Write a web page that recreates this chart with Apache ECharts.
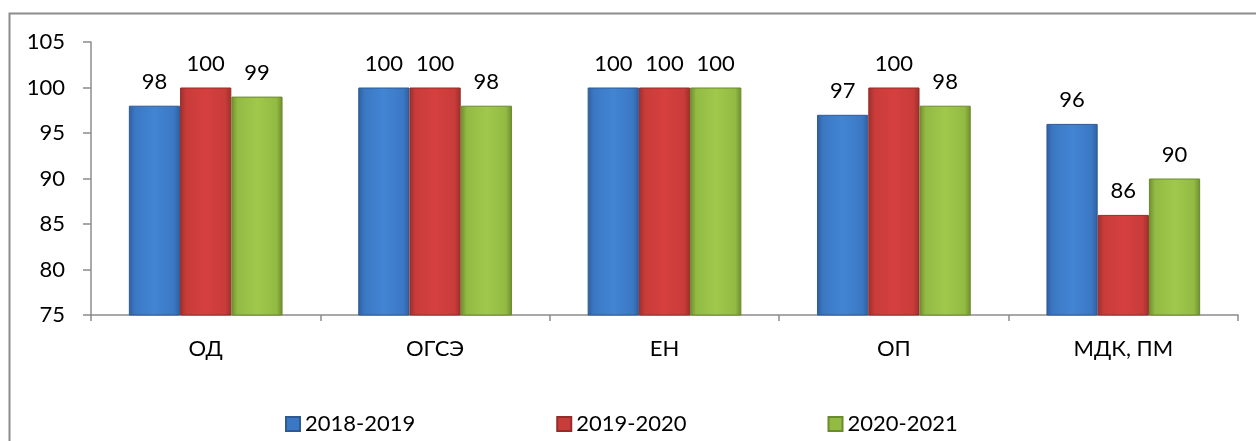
<!DOCTYPE html>
<html><head><meta charset="utf-8">
<script src="https://cdn.jsdelivr.net/npm/echarts@6/dist/echarts.min.js"></script>
<style>html,body{margin:0;padding:0;background:#fff}#c{width:1256px;height:441px}</style>
</head><body><div id="c"></div>
<script>
const categories = ['ОД', 'ОГСЭ', 'ЕН', 'ОП', 'МДК, ПМ'];
const seriesNames = ['2018-2019', '2019-2020', '2020-2021'];
const s2018 = [98, 100, 100, 97, 96];
const s2019 = [100, 100, 100, 100, 86];
const s2020 = [99, 98, 100, 98, 90];
const yTicks = {min: 75, max: 105, interval: 5};

const FONT = 'Lato';
const FS = 22;
function grad(edge, mid, light) {
  return new echarts.graphic.LinearGradient(0, 0, 1, 0, [
    {offset: 0, color: edge}, {offset: 0.12, color: mid}, {offset: 0.5, color: light},
    {offset: 0.88, color: mid}, {offset: 1, color: edge}
  ]);
}
const styles = [
  {color: grad('#2f5f9e', '#3b78c4', '#4285d2'), borderColor: '#2d5a94'},
  {color: grad('#9e2e2c', '#c83c3a', '#d6403e'), borderColor: '#952c2a'},
  {color: grad('#6f8d2e', '#93bb44', '#a0c84b'), borderColor: '#6b8a2c'}
];
const legendColors = ['#3b78c4', '#c83c3a', '#93bb44'];
const data = [s2018, s2019, s2020];

const chart = echarts.init(document.getElementById('c'), null, {renderer: 'canvas'});
chart.setOption({
  animation: false,
  textStyle: {fontFamily: FONT},
  graphic: [{type: 'rect', shape: {x: 9.5, y: 13.5, width: 1300, height: 500},
    style: {fill: 'none', stroke: '#8c8c8c', lineWidth: 2}, silent: true}],
  grid: {left: 91, right: 18, top: 42, bottom: 126, containLabel: false},
  legend: {
    bottom: 1, left: 280, itemWidth: 14, itemHeight: 14, itemGap: 141,
    icon: 'rect',
    textStyle: {fontSize: FS, color: '#000', fontFamily: FONT},
    data: seriesNames.map((n, i) => ({name: n, itemStyle: {color: legendColors[i]}}))
  },
  xAxis: {
    type: 'category', data: categories,
    axisLine: {lineStyle: {color: '#8c8c8c', width: 1.5}},
    axisTick: {show: true, length: 6, lineStyle: {color: '#8c8c8c', width: 1.5}},
    axisLabel: {fontSize: FS, color: '#000', margin: 23, fontFamily: FONT}
  },
  yAxis: {
    type: 'value', min: yTicks.min, max: yTicks.max, interval: yTicks.interval,
    axisLine: {show: true, lineStyle: {color: '#8c8c8c', width: 1.5}},
    axisTick: {show: true, length: 8, lineStyle: {color: '#8c8c8c', width: 1.5}},
    splitLine: {show: false},
    axisLabel: {fontSize: FS, color: '#000', margin: 26, fontFamily: FONT}
  },
  series: seriesNames.map((n, i) => ({
    name: n, type: 'bar', data: data[i],
    barGap: '0%', barCategoryGap: '33%',
    itemStyle: Object.assign({borderWidth: 1}, styles[i]),
    label: {show: true, position: 'top', distance: 13, fontSize: FS, color: '#000', fontFamily: FONT}
  }))
});
</script></body></html>
